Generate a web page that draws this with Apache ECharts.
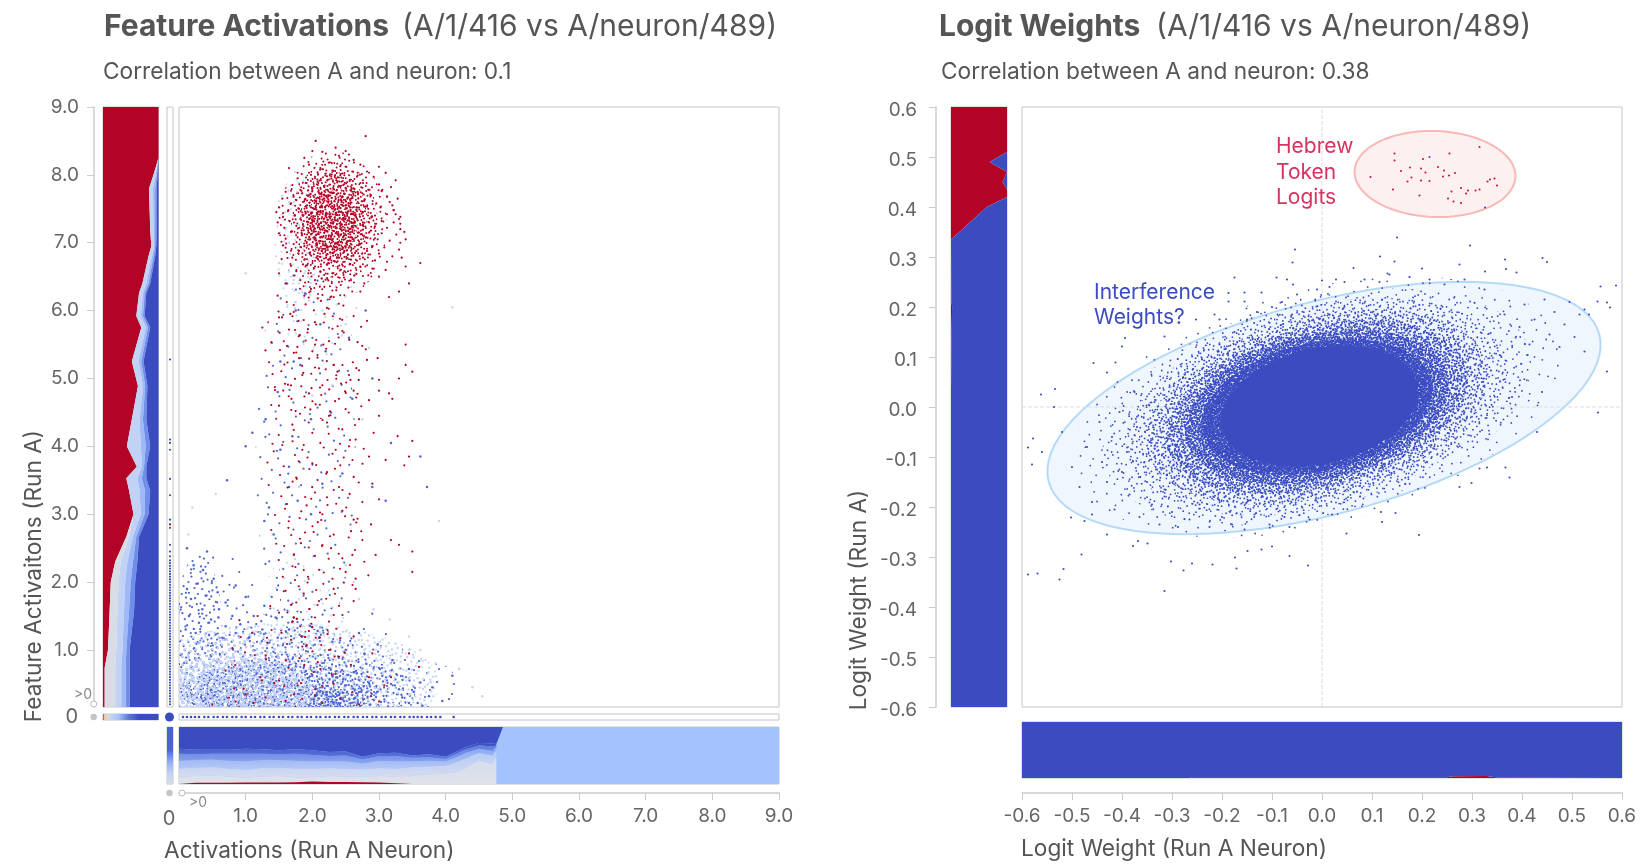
<!DOCTYPE html>
<html><head><meta charset="utf-8">
<style>html,body{margin:0;padding:0;background:#fff}#c{width:1652px;height:867px}</style>
<script src="https://cdn.jsdelivr.net/npm/echarts@6/dist/echarts.min.js"></script></head>
<body><div id="c"></div>
<script>
// ---------- tick labels
const activationTicks=[1,2,3,4,5,6,7,8,9];
const logitTicks=[-0.6,-0.5,-0.4,-0.3,-0.2,-0.1,0,0.1,0.2,0.3,0.4,0.5,0.6];
// ---------- activation histogram beside the y axis (fractions per y bin)
const histY=[.16,.5,.74,1,1.58,2,2.3,2.67,3,3.35,3.53,3.7,4,4.4,4.89,5.25,5.75,5.92,6.26,6.4,6.8,6.95,7.2,7.8,8,8.25,9];
const histYred=[.03,.03,.03,.09,.12,.14,.22,.42,.55,.47,.42,.61,.43,.52,.63,.52,.69,.60,.65,.71,.82,.87,.85,.83,.91,1,1];
const histYe1=[.22,.22,.22,.24,.26,.28,.32,.47,.55,.47,.42,.61,.43,.52,.63,.52,.69,.60,.65,.71,.82,.87,.85,.83,.91,1,1];
const histYe2=[.33,.33,.33,.35,.38,.4,.44,.54,.68,.66,.62,.7,.68,.66,.72,.64,.77,.68,.72,.78,.88,.92,.91,.9,.95,1,1];
const histYe3=[.41,.41,.41,.42,.47,.5,.54,.6,.75,.76,.7,.74,.77,.72,.76,.69,.81,.72,.75,.82,.91,.94,.94,.94,.97,1,1];
const histYblue=[.48,.48,.48,.48,.56,.58,.62,.65,.82,.85,.78,.78,.85,.78,.80,.73,.85,.75,.78,.85,.94,.96,.97,.97,.98,1,1];
// ---------- activation histogram under the x axis
const histX=[0,.25,.5,.75,1,1.25,1.5,1.75,2,2.25,2.5,2.75,3,3.25,3.5,3.75,4,4.15,4.3,4.5,4.7,4.76];
const histXred=[0,.02,.02,.02,.025,.025,.025,.03,.045,.035,.035,.03,.025,.015,0,0,0,0,0,0,0,0];
const histXe1=[.13,.14,.15,.13,.11,.13,.14,.12,.12,.14,.13,.13,.14,.13,.15,.17,.18,.2,.28,.42,.35,.5];
const histXe2=[.27,.29,.3,.27,.25,.28,.29,.27,.27,.28,.27,.26,.28,.27,.3,.31,.32,.38,.45,.55,.5,.6];
const histXe3=[.41,.42,.43,.41,.4,.42,.42,.41,.4,.4,.4,.36,.41,.4,.4,.41,.4,.46,.55,.62,.58,.66];
const histXe4=[.53,.52,.53,.53,.53,.53,.52,.53,.51,.49,.5,.43,.49,.49,.46,.47,.44,.52,.61,.68,.66,.68];
const histXblue=[.62,.6,.6,.6,.62,.61,.59,.61,.59,.56,.57,.48,.54,.55,.5,.52,.48,.56,.65,.72,.71,.7];
// ---------- zero-bin strips
const zeroRowStops=[.02,.09,.28,.46,.65];
const zeroColStops=[.03,.2,.35,.48,.6];
// ---------- logit histograms
const logitY=[-.6,.03,.15,.2,.215,.225,.335,.4,.42,.425,.435,.45,.47,.49,.51,.515,.6];
const logitYred=[0,0,.01,.02,.005,.005,0,.64,1,1,1,.92,1,.69,1,1,1];
const logitX=[-.6,-.265,-.26,.25,.26,.33,.35,.6];
const logitXred=[0,0,.012,.012,.03,.035,.01,0];
// ---------- band colours
const RED='#b40426',BLUE='#3b4cc0',PALE='#a3c2fe',DOTBLUE='#4f66cf',DOTPALE='#c6d6f8';
const bandCols=[RED,'#d8dce5','#c2d2f5','#9fb9f7','#6f8dea',BLUE];
// ---------- activation scatter, pairs in hundredths
const actRedTop=[205,850,280,857,235,840,200,835,215,834,250,835,255,830,165,810,188,825,240,828,262,822,195,815,225,818,272,815,300,812,212,810,250,812,232,806,282,805,310,803,178,795,198,800,222,798,245,802,268,799,292,797,325,792,170,785,190,788,208,790,236,792,256,791,276,788,300,786,318,782,305,778,160,775,182,778,200,780,218,782,240,784,262,780,284,778,304,776,312,768,155,765,172,768,192,770,212,772,228,774,248,772,268,775,288,770,312,768,328,765,150,752,168,758,186,760,204,762,224,764,244,760,258,765,278,762,296,758,316,760,320,755,322,748,146,745,164,748,180,750,198,752,214,755,232,752,250,755,266,752,284,750,302,752,322,748,325,742,156,738,174,740,190,743,208,745,226,742,240,746,258,742,276,745,294,740,312,742,332,738,330,735,148,730,166,732,182,735,200,733,218,736,234,733,250,736,268,733,286,736,304,732,322,730,332,728,158,722,176,725,192,722,210,727,226,724,244,727,260,723,276,727,294,724,312,722,332,720,338,716,150,714,168,716,184,718,202,716,220,718,236,715,254,718,270,715,288,718,304,714,326,712,340,705,160,706,178,708,194,705,212,708,228,705,246,708,262,705,280,708,298,705,316,703,332,700,156,696,172,698,188,695,206,698,222,695,238,698,256,695,272,698,290,695,308,693,330,690,162,686,180,688,196,685,214,688,230,685,248,688,264,685,282,688,300,684,320,680,334,678,154,676,170,678,188,675,206,678,224,675,240,678,258,675,276,678,294,674,312,672,168,666,186,668,204,665,222,668,238,665,256,668,272,665,290,662,310,660,340,665,362,670,150,655,176,658,194,655,212,658,230,655,248,658,266,654,284,652,300,650,182,645,204,645,222,648,240,642,258,645,278,640,330,628,315,620,198,632,218,635,236,630,254,634,272,628,345,640,160,640,148,622,188,622,208,618,232,620];
const actRedMid=[150,590,165,572,172,598,190,556,204,583,222,604,238,577,262,592,282,585,125,575,162,548,180,530,200,540,225,555,245,570,275,548,298,530,340,550,350,510,340,520,185,505,210,515,232,520,255,505,270,512,300,498,300,482,330,500,315,478,168,490,195,478,215,490,240,470,262,482,285,468,320,470,150,460,175,452,205,462,225,445,250,455,270,440,300,445,170,432,200,420,222,435,245,425,265,410,292,420,328,415,350,408,155,402,185,395,212,405,235,395,255,400,285,385,310,380,345,385,338,372,200,375,222,362,242,372,262,355,290,345,240,340,222,325,256,330,275,318,300,322,215,300,245,305,262,292,288,285,232,270,258,275,275,262,318,262,330,255,350,245,228,250,245,235,260,240,295,240,278,230,250,215,265,205,284,210,265,190,232,190,210,172,240,165,262,172,350,215];
const actRedLow=[150,155,172,148,182,135,195,128,132,118,168,115,185,105,205,118,225,100,240,90,262,120,290,95,130,92,160,85,188,78,212,72,235,65,258,78,285,60,122,60,150,55,178,48,205,42,232,50,260,38,288,32,308,48,100,35,130,30,160,25,185,28,215,22,242,28,270,20,300,24,85,24,50,20,75,30,112,22,345,95,318,60,360,75];
const actBlue=[12,250,22,225,36,218,42,245,52,205,28,198,12,190,18,175,40,180,58,185,70,170,85,195,100,178,80,150,60,160,35,160,15,150,30,140,48,145,70,135,92,138,112,150,128,165,145,148,10,130,25,125,45,122,65,118,85,125,105,118,125,130,148,118,165,130,185,120,208,128,230,112,250,100,270,125,278,95,298,108,320,85,345,72,362,52,375,32,395,25,352,38,330,42,380,45,410,62,335,30,358,22,345,22,365,18,128,290,142,270,135,310,165,340,198,300,178,320,215,345,245,360,290,340,310,320,318,405,362,385,372,340,165,370,152,395,170,415,198,440,228,450,260,470,290,500,152,525,148,480,130,440,110,420,100,400,72,350,182,520,220,540,255,560,280,600,212,580,175,600,190,625,162,640,172,525];
const actPale=[165,700,150,670,172,645,195,615,215,600,180,640,188,655,205,700,238,690,160,720,155,742,172,760,245,720,100,655,410,605,250,580,285,545,200,475,230,490,275,440,250,225,262,200,270,175,292,160,316,145,345,120,362,100,385,80,420,72,440,45,455,32,90,80,60,60,14,270,20,310,55,330,180,340,245,305,390,290];
const zeroColY=[528,410,405,395,352,328,292,280,255,245,238,232,228,224,220,216,212,208,204,200,196,192,188,184,180,176,172,168,164,160,156,152,148,144,140,136,132,128,124,120,116,112,108,104,100,96,92,88,84,80,76,72,68,64,60,56,52,48,44,40,36,32,28,24,20];
const zeroRowX=[6,12,18,24,30,38,44,52,58,66,72,80,86,94,100,108,114,122,128,136,142,150,156,164,170,178,184,192,198,206,212,220,226,234,240,248,254,262,268,276,282,290,296,304,310,318,324,332,338,346,352,358,364,372,378,385,392,412];
// ---------- logit scatter, pairs in thousandths
const hebrewRed=[315,520,255,507,145,507,145,493,202,496,158,472,176,479,198,477,207,469,232,480,244,473,242,461,254,463,266,468,97,460,179,459,171,451,198,453,215,452,345,457,336,455,331,451,350,443,142,435,195,423,259,431,278,438,292,433,307,433,315,435,288,427,252,417,263,411,278,408];
const hebrewBlue=[215,500,326,399];
const logitOut=[150,339,296,323,-54,315,-59,289,116,301,145,291,366,295,441,298,450,290,275,285,63,278,200,277,326,271,368,276,389,269,-175,259,-91,259,-70,255,-58,245,0,253,28,255,131,267,557,241,588,243,551,211,570,209,576,199,525,195,534,185,-187,228,-155,229,-121,229,-187,211,-155,211,-215,185,-205,175,-252,175,-394,138,-400,121,-315,141,-457,88,-413,89,-430,69,-534,36,-562,25,-536,0,570,71,552,-11,525,111,-588,-335,-569,-333,-517,-324,-525,-345,-481,-295,-315,-368,-302,-309,-277,-327,-260,-313,-219,-315,-174,-301,-171,-323,-28,-317,-65,-298,-149,-288,-121,-285,-100,-279,194,-256,49,-253,120,-230,147,-212,118,-210,375,-141,367,-121,330,-121,315,-123,299,-152,275,-160,-378,-278,-368,-268,-349,-273,-430,-255,-502,-221,-475,-228,-588,-81,-580,-115,-560,-90,-578,-63];
const logitIn=[-520,-50,-500,-120,-485,-160,-470,-80,-460,-190,-445,-30,-440,-110,-430,-150,-420,-60,-415,-205,-405,-10,-400,-130,-390,-90,-385,-175,-375,30,-370,-40,-365,-220,-355,-110,-350,-150,-345,-70,-340,-195,-335,10,-330,-125,-325,-235,-320,-95,-315,-165,-310,-30,-305,40,-300,-210,-295,-140,-290,-75,-285,-180,-275,65,-265,-225,-255,30,-245,-195,-240,95,-225,-240,-220,60,-205,125,-200,-220,-180,-235,-175,150,-155,-245,-150,175,-135,-215,-130,190,-105,-235,-100,200,-80,210,-75,-220,-65,-240,-60,185,-50,225,-25,-225,-10,235,15,240,20,-215,45,250,85,255,115,250,135,265,175,260,215,255,245,245,285,255,325,235,365,185,380,20,395,160,405,205,415,125,425,175,430,-50,440,30,445,215,455,145,465,190,475,120,485,165,495,210,505,140,515,185,-460,-215,-288,-240];
const zeroLogit=[-.6,.6];
// ---------- annotation ellipses: cx,cy,rx,ry,rotation(deg)
const logitEllipseBlue=[.004,-.002,.57,.212,15];
const logitEllipsePink=[.226,.466,.161,.086,-2];
// ---------- stipple cell: dot offsets (percent of a cell) used to shade dense regions of the clouds
const stipple=[37,82,11,5,64,29,90,71,23,48,76,13,5,60,52,94,31,17,84,40,46,66,69,3,15,88,58,36,97,22,27,73,8,32,72,55,41,9,19,61,87,86,35,44,61,79,2,12,94,50,50,21,25,97,79,30,12,42,66,63,43,56,99,7,33,28,56,10,82,68,6,77,74,92,17,24,47,38,91,59,30,90,63,47,1,52,85,18,39,69,54,84,21,35,77,6,10,96,68,75,44,26,93,33,28,7,59,58,14,70,71,43,49,99,86,15,4,22,36,64,80,52,24,80,57,16,96,88,40,31,67,92,18,55,75,66,9,44,53,72,3,90,89,25,34,53,62,4,20,12];
// regions: cx,cy,rx,ry,rotation(deg),cell(px),dot radius(px),colour
const logitRegions=[[-.01,0,.5,.235,15,97,.9,BLUE],[-.01,0,.44,.215,15,67,.9,BLUE],[-.01,0,.39,.2,15,49,.9,BLUE],[-.01,0,.35,.18,15,37,.95,BLUE],[-.01,0,.31,.16,15,28,1,BLUE],[-.01,0,.27,.145,14,21,1,BLUE],[-.01,0,.235,.128,13,17,1.1,BLUE]];
const logitCore=[-.005,.002,.2,.115,13];
const actBlueRegions=[[1.3,.75,2.1,1.3,0,170,1.1,DOTBLUE],[1.4,.55,2.0,.8,0,70,1.1,DOTBLUE],[1.9,.4,1.65,.55,0,50,1.15,DOTBLUE],[.8,.5,.95,.7,0,45,1.15,DOTBLUE],[1.5,.4,1.5,.4,0,36,1.15,DOTBLUE],[1.5,.25,1.2,.25,0,30,1.15,DOTBLUE],[1.6,1.2,.6,.4,0,71,1.15,DOTBLUE],[.3,1.3,.35,1.1,0,60,1.1,DOTBLUE],[3.5,.45,.7,.45,0,100,1.1,DOTBLUE],[.6,1.6,.6,.9,0,130,1.1,DOTBLUE],[1.9,3.8,.75,2.9,0,127,1.1,DOTBLUE]];
const actPaleRegions=[[1.6,.5,2.3,.9,0,45,1.2,DOTPALE],[.9,.4,1.1,.5,0,30,1.2,DOTPALE],[1.75,7,.32,1.1,0,68,1.1,DOTPALE],[2.1,6.2,.6,.9,0,110,1.1,DOTPALE],[1.9,1.6,.7,.8,0,120,1.1,DOTPALE]];
const actRedRegions=[[1.6,.9,.95,.85,0,140,1.1,RED],[2.05,3.7,.75,2.8,0,125,1.1,RED],[1.85,2.4,.35,1.4,0,140,1.1,RED],[2.05,5.4,.8,1,0,118,1.1,RED],[2.3,7.25,.82,1.1,0,60,1,RED],[2.33,7.3,.65,.9,0,42,1,RED],[2.32,7.35,.5,.7,0,34,1,RED],[2.3,7.3,.38,.48,0,30,1,RED]];

const pairs=(a,d)=>{const o=[];for(let i=0;i<a.length;i+=2)o.push([a[i]/d,a[i+1]/d]);return o;};
const speckle=(size,r,color)=>{const c=document.createElement('canvas');c.width=c.height=size;const g=c.getContext('2d');g.fillStyle=color;
 for(let i=0;i<stipple.length;i+=2){g.beginPath();g.arc(stipple[i]/100*size,stipple[i+1]/100*size,r,0,7);g.fill();}return {image:c,repeat:'repeat'};};
const regionEllipses=l=>l.map(r=>[r[0],r[1],r[2],r[3],r[4],speckle(r[5],r[6],r[7])]);
const G={ // grid rectangles in page pixels
 aMain:[179,107,600,600],aHist:[103,107,55.5,600],aCol:[167,107,6,600],aRow:[179,714,600,6],aMini:[103,714,55.5,6],aDot:[164,712,11,10],aBot:[179,727,600,57],aBotCol:[167,727,6,57],
 bMain:[1022,107,600,600],bHist:[951,107,56,600],bBot:[1022,722,600,56]};
const names=Object.keys(G),idx=k=>names.indexOf(k);
const frame='#c4c4c4';
const grid=names.map(k=>({left:G[k][0],top:G[k][1],width:G[k][2],height:G[k][3],show:k!=='aDot',borderColor:frame,borderWidth:1,backgroundColor:'#fff',z:1}));
const hiddenAxis=(g,min,max)=>({gridIndex:g,type:'value',min,max,show:false});
const R={aMain:[[0,9],[.16,9]],aHist:[[0,1],[.16,9]],aCol:[[-1,1],[.16,9]],aRow:[[0,9],[-1,1]],aMini:[[0,1],[0,1]],aDot:[[-1,1],[-1,1]],aBot:[[0,9],[0,1]],aBotCol:[[0,1],[0,1]],bMain:[[-.6,.6],[-.6,.6]],bHist:[[0,1],[-.6,.6]],bBot:[[-.6,.6],[0,1]]};
const xAxis=names.map((k,i)=>hiddenAxis(i,...R[k][0])),yAxis=names.map((k,i)=>hiddenAxis(i,...R[k][1]));
const lab={color:'#666',fontFamily:'Inter',fontSize:19};
const axisBase={show:true,splitLine:{show:false},axisLine:{show:true,onZero:false,lineStyle:{color:'#ccc',width:1.5}},axisTick:{show:true,length:7,lineStyle:{color:'#ccc'}}};
Object.assign(xAxis[idx('aMain')],axisBase,{position:'bottom',offset:86,axisLabel:{...lab,margin:14,customValues:activationTicks,formatter:v=>v.toFixed(1)},axisTick:{...axisBase.axisTick,customValues:activationTicks}});
Object.assign(yAxis[idx('aMain')],axisBase,{position:'left',offset:85,axisLabel:{...lab,margin:15,customValues:activationTicks,formatter:v=>v.toFixed(1)},axisTick:{...axisBase.axisTick,customValues:activationTicks}});
Object.assign(xAxis[idx('bMain')],axisBase,{position:'bottom',offset:86,axisLabel:{...lab,margin:14,customValues:logitTicks,formatter:v=>v.toFixed(1)},axisTick:{...axisBase.axisTick,customValues:logitTicks}});
Object.assign(yAxis[idx('bMain')],axisBase,{position:'left',offset:86,axisLabel:{...lab,margin:19,verticalAlign:'top',lineHeight:6,customValues:logitTicks,formatter:v=>v.toFixed(1)},axisTick:{...axisBase.axisTick,customValues:logitTicks}});

function polys(k,list,z){ // list of {pts,fill}, drawn through the axes of grid k
 return {type:'custom',xAxisIndex:idx(k),yAxisIndex:idx(k),z:z||2,silent:true,clip:true,data:list.map((_,i)=>[i]),encode:{x:-1,y:-1},
  renderItem:(p,api)=>{const b=list[p.dataIndex];return {type:'polygon',shape:{points:b.pts.map(q=>api.coord(q))},style:{fill:b.fill}};}};
}
const ribbon=(xs,lo,hi,swap)=>{const a=xs.map((x,i)=>swap?[lo[i],x]:[x,lo[i]]),b=xs.map((x,i)=>swap?[hi[i],x]:[x,hi[i]]).reverse();return a.concat(b);};
const stack=(xs,edges,cols,swap)=>{const zero=xs.map(()=>0),one=xs.map(()=>1),all=[zero,...edges,one];return cols.map((c,i)=>({pts:ribbon(xs,all[i],all[i+1],swap),fill:c}));};
const vgrad=(lo,hi)=>({type:'linear',x:0,y:0,x2:0,y2:1,colorStops:[{offset:0,color:hi},{offset:1,color:lo}]});
function ellipses(k,list,z){ // list of [cx,cy,rx,ry,rot,fill,stroke,lw]
 return {type:'custom',xAxisIndex:idx(k),yAxisIndex:idx(k),z:z||2,silent:true,clip:true,data:list.map((_,i)=>[i]),encode:{x:-1,y:-1},
  renderItem:(p,api)=>{const e=list[p.dataIndex],c=api.coord([e[0],e[1]]),s=api.size([1,1]),t=e[4]*Math.PI/180,pts=[];
   for(let i=0;i<96;i++){const a=i/96*2*Math.PI,u=e[2]*s[0]*Math.cos(a),v=e[3]*s[1]*Math.sin(a);pts.push([c[0]+u*Math.cos(t)+v*Math.sin(t),c[1]-u*Math.sin(t)+v*Math.cos(t)]);}
   return {type:'polygon',shape:{points:pts},style:{fill:e[5],stroke:e[6]||null,lineWidth:e[7]||0}};}};
}
const dots=(k,data,color,size,z)=>({type:'scatter',xAxisIndex:idx(k),yAxisIndex:idx(k),data,symbolSize:size,silent:true,z:z||5,itemStyle:{color,opacity:1},animation:false});
const colStopCols=['#d6dbe5','#c0cff3','#9cb6f5','#7491ea','#4a64cf',BLUE];
const rowStopCols=['#f6c0a0','#d6dbe5','#a3c2fe','#5b78dc',BLUE];

const series=[
 polys('aHist',stack(histY,[histYred,histYe1,histYe2,histYe3,histYblue],bandCols,true)),
 polys('aBot',[{pts:ribbon([0,9],[0,0],[1,1]),fill:PALE}]),
 polys('aBot',[{pts:ribbon(histX.concat(4.86),histXblue.concat(1),histX.concat(4.86).map(()=>1)),fill:BLUE}]),
 polys('aBot',stack(histX,[histXe1,histXe2,histXe3,histXe4,histXblue],[vgrad('#dfe2e8','#d4dcf0'),vgrad('#d4dcf0','#b5c9f6'),vgrad('#b5c9f6','#8aa5f0'),vgrad('#8aa5f0','#5f7bdc'),vgrad('#5f7bdc',BLUE),BLUE],false).slice(0,-1),3),
 polys('aBot',stack(histX,[histXred],[RED,'rgba(0,0,0,0)'],false).slice(0,1),4),
 polys('aMini',[{pts:ribbon([0,1],[0,0],[1,1],true),fill:{type:'linear',x:0,y:0,x2:1,y2:0,colorStops:[{offset:0,color:RED},...zeroRowStops.map((s,i)=>({offset:s,color:rowStopCols[i]}))]}}]),
 polys('aBotCol',[{pts:ribbon([0,1],[0,0],[1,1]),fill:{type:'linear',x:0,y:1,x2:0,y2:0,colorStops:zeroColStops.map((s,i)=>({offset:s,color:colStopCols[i]}))}}]),
 polys('bHist',stack(logitY,[logitYred],[RED,BLUE],true)),
 polys('bBot',stack(logitX,[logitXred],[RED,BLUE],false)),
 dots('aDot',[[0,0]],BLUE,9),
 dots('aCol',zeroColY.map(v=>[0,v/100]),BLUE,2.2),
 dots('aCol',[[0,2.85]],RED,2.2),
 dots('aRow',zeroRowX.map(v=>[v/100,0]),BLUE,2.6),
 ellipses('aMain',regionEllipses(actBlueRegions),2),
 ellipses('aMain',regionEllipses(actPaleRegions),3),
 dots('aMain',pairs(actPale,100),DOTPALE,2.5,4),
 dots('aMain',pairs(actBlue,100),DOTBLUE,2.5,5),
 ellipses('aMain',regionEllipses(actRedRegions),6),
 dots('aMain',pairs(actRedLow,100),RED,2.2,7),
 dots('aMain',pairs(actRedMid,100),RED,2.2,7),
 dots('aMain',pairs(actRedTop,100),RED,2.2,7),
 ellipses('bMain',[[...logitEllipsePink,'#fdf0f0','#f8b8b8',2],[...logitEllipseBlue,'#eff6fe','#b5daf7',2]],2),
 {type:'line',xAxisIndex:idx('bMain'),yAxisIndex:idx('bMain'),z:3,symbol:'none',silent:true,data:zeroLogit.map(v=>[0,v]),lineStyle:{color:'#ddd',width:1,type:'dashed'}},
 {type:'line',xAxisIndex:idx('bMain'),yAxisIndex:idx('bMain'),z:3,symbol:'none',silent:true,data:zeroLogit.map(v=>[v,0]),lineStyle:{color:'#ddd',width:1,type:'dashed'}},
 ellipses('bMain',regionEllipses(logitRegions),4),
 ellipses('bMain',[[...logitCore,BLUE]],4.5),
 dots('bMain',pairs(logitOut,1000),BLUE,2.1),
 dots('bMain',pairs(logitIn,1000),BLUE,2.1),
 dots('bMain',pairs(hebrewBlue,1000),BLUE,2.1),
 dots('bMain',pairs(hebrewRed,1000),'#d0143f',2.1),
];
const T=(text,x,y,font,fill,extra)=>({type:'text',x,y,z:20,rotation:(extra&&extra.rot)||0,style:{text,font,fill,textAlign:(extra&&extra.align)||'left',textVerticalAlign:'middle'}});
const f=(s,w)=>`${w||400} ${s}px Inter`;
const ink='#555';
const dotG=(x,y,hollow)=>({type:'circle',z:20,shape:{cx:x,cy:y,r:hollow?3:3.2},style:hollow?{fill:'#fff',stroke:'#bbb',lineWidth:1}:{fill:'#c4c4c4'}});
const graphic=[
 T('Feature Activations',104,27,f(30,700),ink),T('(A/1/416 vs A/neuron/489)',402,27,f(30),ink),
 T('Correlation between A and neuron: 0.1',103,72,f(22.7),ink),
 T('Logit Weights',939,27,f(30,700),ink),T('(A/1/416 vs A/neuron/489)',1156,27,f(30),ink),
 T('Correlation between A and neuron: 0.38',941,72,f(22.7),ink),
 T('Activations (Run A Neuron)',164,851,f(22.7),ink),T('Logit Weight (Run A Neuron)',1021,849,f(22.7),ink),
 T('Feature Activaitons (Run A)',34,576,f(22.7),ink,{rot:Math.PI/2,align:'center'}),
 T('Logit Weight (Run A)',859,600,f(22.7),ink,{rot:Math.PI/2,align:'center'}),
 T('0',78,717,f(20),'#666',{align:'right'}),T('0',169,819,f(20),'#666',{align:'center'}),
 T('>0',92,695,f(14),'#888',{align:'right'}),T('>0',189,803,f(14),'#888'),
 dotG(93.7,704,true),dotG(93.7,717),dotG(169.5,793),dotG(182,793,true),
 T('Hebrew',1276,147,f(21),'#d8325f'),T('Token',1276,173,f(21),'#d8325f'),T('Logits',1276,198,f(21),'#d8325f'),
 T('Interference',1094,293,f(21),'#3b4cc0'),T('Weights?',1094,318,f(21),'#3b4cc0'),
];
const chart=echarts.init(document.getElementById('c'),null,{renderer:'canvas'});
chart.setOption({animation:false,backgroundColor:'#fff',grid,xAxis,yAxis,series,graphic});
</script></body></html>
